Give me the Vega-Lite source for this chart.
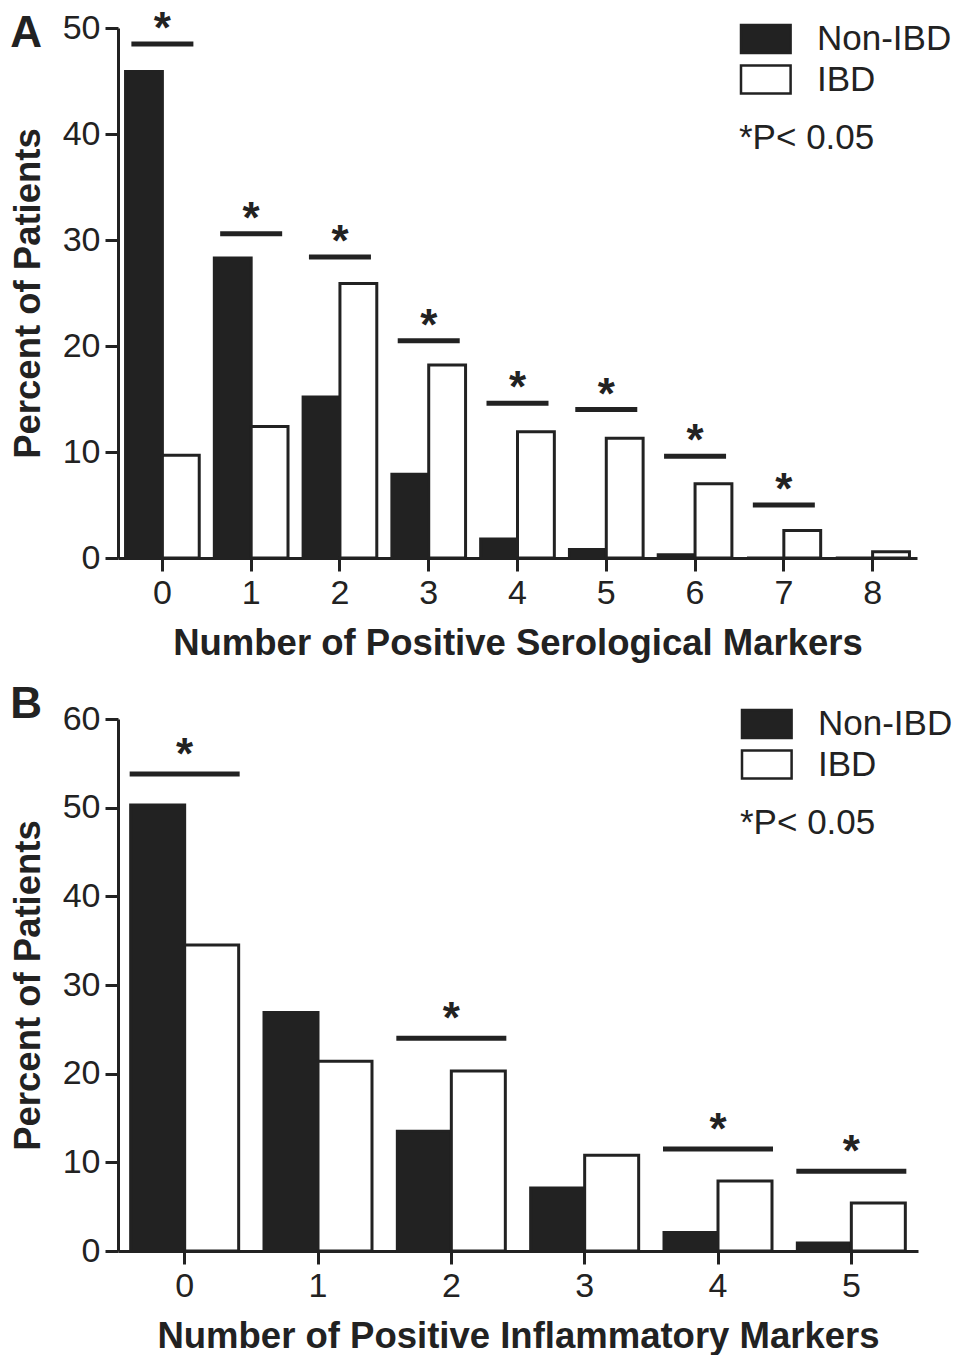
{
  "$schema": "https://vega.github.io/schema/vega-lite/v6.json",
  "padding": {"left": 10, "top": 7, "right": 0, "bottom": 0},
  "background": "white",
  "spacing": 21,
  "config": {
    "font": "Liberation Sans",
    "view": {"stroke": null},
    "axis": {
      "domainColor": "#222222", "domainWidth": 3,
      "tickColor": "#222222", "tickWidth": 3, "tickSize": 13,
      "labelFont": "Liberation Sans", "labelFontSize": 34, "labelColor": "#222222",
      "titleFont": "Liberation Sans", "titleFontSize": 36.5, "titleFontWeight": "bold", "titleColor": "#222222",
      "grid": false
    },
    "axisX": {"labelAngle": 0, "labelPadding": 5, "titlePadding": 15},
    "axisY": {"labelPadding": 5, "titlePadding": 15},
    "legend": {
      "symbolType": "M-1,-0.9H2.2V0.9H-1Z",
      "symbolSize": 961,
      "symbolStrokeColor": "#222222",
      "symbolStrokeWidth": 2.5,
      "symbolOpacity": 1,
      "labelFont": "Liberation Sans",
      "labelFontSize": 35,
      "labelColor": "#222222",
      "labelOffset": 43,
      "padding": 0,
      "rowPadding": 1.5,
      "titleOrient": "bottom",
      "titleAnchor": "start",
      "titleFont": "Liberation Sans",
      "titleFontSize": 35,
      "titleFontWeight": "normal",
      "titleColor": "#222222",
      "titlePadding": 22
    },
    "title": {"fontSize": 44, "fontWeight": "bold", "color": "#222222", "anchor": "start", "frame": "bounds", "font": "Liberation Sans"}
  },
  "datasets": {
    "a_bars": [
      {"cat": "0", "group": "Non-IBD", "value": 45.9},
      {"cat": "1", "group": "Non-IBD", "value": 28.3},
      {"cat": "2", "group": "Non-IBD", "value": 15.2},
      {"cat": "3", "group": "Non-IBD", "value": 7.9},
      {"cat": "4", "group": "Non-IBD", "value": 1.8},
      {"cat": "5", "group": "Non-IBD", "value": 0.8},
      {"cat": "6", "group": "Non-IBD", "value": 0.3},
      {"cat": "7", "group": "Non-IBD", "value": 0},
      {"cat": "8", "group": "Non-IBD", "value": 0},
      {"cat": "0", "group": "IBD", "value": 9.7},
      {"cat": "1", "group": "IBD", "value": 12.4},
      {"cat": "2", "group": "IBD", "value": 25.9},
      {"cat": "3", "group": "IBD", "value": 18.2},
      {"cat": "4", "group": "IBD", "value": 11.9},
      {"cat": "5", "group": "IBD", "value": 11.3},
      {"cat": "6", "group": "IBD", "value": 7.0},
      {"cat": "7", "group": "IBD", "value": 2.6},
      {"cat": "8", "group": "IBD", "value": 0.6}
    ],
    "a_sig": [
      {"cat": "0", "y": 48.5},
      {"cat": "1", "y": 30.6},
      {"cat": "2", "y": 28.4},
      {"cat": "3", "y": 20.5},
      {"cat": "4", "y": 14.6},
      {"cat": "5", "y": 14.0},
      {"cat": "6", "y": 9.6},
      {"cat": "7", "y": 5.0}
    ],
    "b_bars": [
      {"cat": "0", "group": "Non-IBD", "value": 50.3},
      {"cat": "1", "group": "Non-IBD", "value": 26.9},
      {"cat": "2", "group": "Non-IBD", "value": 13.5},
      {"cat": "3", "group": "Non-IBD", "value": 7.1},
      {"cat": "4", "group": "Non-IBD", "value": 2.1},
      {"cat": "5", "group": "Non-IBD", "value": 0.9},
      {"cat": "0", "group": "IBD", "value": 34.5},
      {"cat": "1", "group": "IBD", "value": 21.4},
      {"cat": "2", "group": "IBD", "value": 20.3},
      {"cat": "3", "group": "IBD", "value": 10.8},
      {"cat": "4", "group": "IBD", "value": 7.9},
      {"cat": "5", "group": "IBD", "value": 5.4}
    ],
    "b_sig": [
      {"cat": "0", "y": 53.8},
      {"cat": "2", "y": 24.0},
      {"cat": "4", "y": 11.5},
      {"cat": "5", "y": 9.0}
    ]
  },
  "resolve": {
    "scale": {"x": "independent", "y": "independent", "fill": "independent", "xOffset": "independent"},
    "legend": {"fill": "independent"}
  },
  "vconcat": [
    {
      "title": {"text": "A", "dy": 52},
      "width": 799,
      "height": 530,
      "layer": [
        {
          "data": {"name": "a_bars"},
          "mark": {"type": "bar", "stroke": "#222222", "strokeWidth": 3},
          "encoding": {
            "x": {"field": "cat", "type": "ordinal", "title": "Number of Positive Serological Markers",
                  "scale": {"paddingInner": 0.17, "paddingOuter": 0.085}},
            "xOffset": {"field": "group", "sort": ["Non-IBD", "IBD"], "scale": {"paddingInner": 0, "paddingOuter": 0}},
            "y": {"field": "value", "type": "quantitative", "title": "Percent of Patients",
                  "scale": {"domain": [0, 50], "nice": false},
                  "axis": {"values": [0, 10, 20, 30, 40, 50]}},
            "fill": {"field": "group", "type": "nominal", "sort": ["Non-IBD", "IBD"],
                     "scale": {"domain": ["Non-IBD", "IBD"], "range": ["#222222", "#ffffff"]},
                     "legend": {"title": "*P< 0.05", "orient": "none", "legendX": 621, "legendY": -6.5}}
          }
        },
        {
          "data": {"name": "a_sig"},
          "mark": {"type": "tick", "thickness": 5, "size": 62, "color": "#222222", "opacity": 1},
          "encoding": {
            "x": {"field": "cat", "type": "ordinal"},
            "y": {"field": "y", "type": "quantitative"}
          }
        },
        {
          "data": {"name": "a_sig"},
          "mark": {"type": "text", "text": "*", "fontSize": 44, "fontWeight": "bold", "color": "#222222", "baseline": "alphabetic", "dy": -1},
          "encoding": {
            "x": {"field": "cat", "type": "ordinal"},
            "y": {"field": "y", "type": "quantitative"}
          }
        }
      ]
    },
    {
      "title": {"text": "B", "dy": 29},
      "width": 800,
      "height": 532,
      "layer": [
        {
          "data": {"name": "b_bars"},
          "mark": {"type": "bar", "stroke": "#222222", "strokeWidth": 3},
          "encoding": {
            "x": {"field": "cat", "type": "ordinal", "title": "Number of Positive Inflammatory Markers",
                  "scale": {"paddingInner": 0.19, "paddingOuter": 0.095}},
            "xOffset": {"field": "group", "sort": ["Non-IBD", "IBD"], "scale": {"paddingInner": 0, "paddingOuter": 0}},
            "y": {"field": "value", "type": "quantitative", "title": "Percent of Patients",
                  "scale": {"domain": [0, 60], "nice": false},
                  "axis": {"values": [0, 10, 20, 30, 40, 50, 60]}},
            "fill": {"field": "group", "type": "nominal", "sort": ["Non-IBD", "IBD"],
                     "scale": {"domain": ["Non-IBD", "IBD"], "range": ["#222222", "#ffffff"]},
                     "legend": {"title": "*P< 0.05", "orient": "none", "legendX": 622, "legendY": -12.5}}
          }
        },
        {
          "data": {"name": "b_sig"},
          "mark": {"type": "tick", "thickness": 5, "size": 110, "color": "#222222", "opacity": 1},
          "encoding": {
            "x": {"field": "cat", "type": "ordinal"},
            "y": {"field": "y", "type": "quantitative"}
          }
        },
        {
          "data": {"name": "b_sig"},
          "mark": {"type": "text", "text": "*", "fontSize": 44, "fontWeight": "bold", "color": "#222222", "baseline": "alphabetic", "dy": -5},
          "encoding": {
            "x": {"field": "cat", "type": "ordinal"},
            "y": {"field": "y", "type": "quantitative"}
          }
        }
      ]
    }
  ]
}
